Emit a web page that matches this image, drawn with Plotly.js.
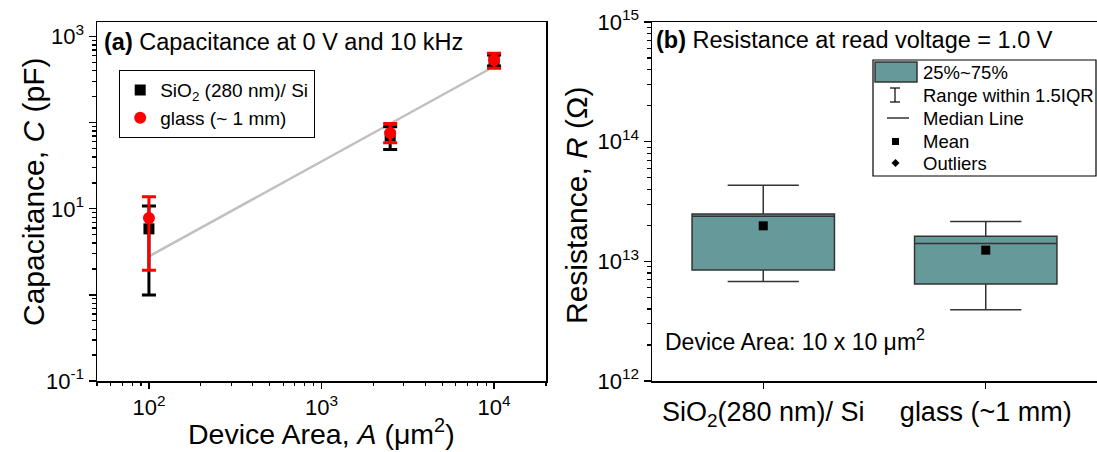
<!DOCTYPE html>
<html><head><meta charset="utf-8">
<script src="https://cdn.plot.ly/plotly-3.0.1.min.js"></script>
<style>html,body{margin:0;padding:0;background:#fff}#chart{width:1097px;height:452px}</style>
</head><body><div id="chart"></div>
<script>
// ---- Panel (a): capacitance vs device area ----
const areas = [100, 2500, 10000];
const sio2C = [5.85, 70, 522];
const sio2Hi = [10.8, 90, 612];
const sio2Lo = [1.0, 49, 457];
const glassC = [7.8, 76, 536];
const glassHi = [13.8, 98, 641];
const glassLo = [1.94, 58.5, 430];
const fitA = [100, 10000];
const fitC = [2.8, 450];

// ---- Panel (b): resistance box plot ----
const substrates = ['SiO<sub>2</sub>(280 nm)/ Si', 'glass (~1 mm)'];
const rQ1 = [8.47e12, 6.46e12];
const rMedian = [2.38e13, 1.41e13];
const rQ3 = [2.49e13, 1.62e13];
const rLowFence = [6.79e12, 3.94e12];
const rHighFence = [4.33e13, 2.15e13];
const rMean = [1.98e13, 1.24e13];

// ---- tick labels ----
const capTickVals = [0.1, 1, 10, 100, 1000];
const capTickText = ['10<sup>-1</sup>', ' ', '10<sup>1</sup>', ' ', '10<sup>3</sup>'];
const areaTickVals = [100, 1000, 10000];
const areaTickText = ['10<sup>2</sup>', '10<sup>3</sup>', '10<sup>4</sup>'];
const resTickVals = [1e12, 1e13, 1e14, 1e15];
const resTickText = ['10<sup>12</sup>', '10<sup>13</sup>', '10<sup>14</sup>', '10<sup>15</sup>'];

const legendLabels = ['25%~75%', 'Range within 1.5IQR', 'Median Line', 'Mean', 'Outliers'];

function minors(lo, hi) {
  const out = [];
  for (let e = lo; e <= hi; e++) for (let m = 2; m <= 9; m++) out.push(m * Math.pow(10, e));
  return out;
}

const W = 1097, H = 452;
const X = p => p / W;
const Y = p => 1 - p / H;
const FONT = 'Arial, "Liberation Sans", sans-serif';
const TEAL = 'rgb(102,153,153)';

const diff = (a, b) => a.map((v, i) => v - b[i]);

const traces = [
  {x: fitA, y: fitC, xaxis: 'x', yaxis: 'y', mode: 'lines', line: {color: '#c0c0c0', width: 2.5}, showlegend: false, hoverinfo: 'skip'},
  {x: areas, y: sio2C, xaxis: 'x', yaxis: 'y', mode: 'markers', name: 'SiO<sub>2</sub> (280 nm)/ Si',
   marker: {symbol: 'square', size: 11, color: '#000'},
   error_y: {type: 'data', symmetric: false, array: diff(sio2Hi, sio2C), arrayminus: diff(sio2C, sio2Lo), color: '#000', thickness: 3, width: 7}},
  {x: areas, y: glassC, xaxis: 'x', yaxis: 'y', mode: 'markers', name: 'glass (~ 1 mm)',
   marker: {symbol: 'circle', size: 12, color: '#ff0000'},
   error_y: {type: 'data', symmetric: false, array: diff(glassHi, glassC), arrayminus: diff(glassC, glassLo), color: '#ff0000', thickness: 3, width: 7}},
  // dummy traces to register minor-tick overlay axes
  {x: [], y: [], xaxis: 'x3', yaxis: 'y', showlegend: false, hoverinfo: 'skip'},
  {x: [], y: [], xaxis: 'x', yaxis: 'y3', showlegend: false, hoverinfo: 'skip'},
  {x: [], y: [], xaxis: 'x2', yaxis: 'y4', showlegend: false, hoverinfo: 'skip'},
  {type: 'box', x: substrates, q1: rQ1, median: rMedian, q3: rQ3, lowerfence: rLowFence, upperfence: rHighFence,
   xaxis: 'x2', yaxis: 'y2', width: 0.64, whiskerwidth: 0.5, fillcolor: TEAL, line: {color: '#333', width: 1.5},
   boxpoints: false, showlegend: false, hoverinfo: 'skip'},
  {x: substrates, y: rMean, xaxis: 'x2', yaxis: 'y2', mode: 'markers', marker: {symbol: 'square', size: 9, color: '#000'},
   showlegend: false, hoverinfo: 'skip'}
];

const yDom = [(H - 381) / H, (H - 22) / H];
const axBase = {showgrid: false, zeroline: false, linecolor: '#000', linewidth: 1.5, ticks: 'outside', tickcolor: '#000', tickwidth: 1.2,
  tickfont: {family: FONT, size: 22, color: '#000'}};

const layout = {
  width: W, height: H, margin: {l: 0, r: 0, t: 0, b: 0},
  paper_bgcolor: '#fff', plot_bgcolor: '#fff',
  font: {family: FONT, color: '#000'},
  showlegend: true,
  xaxis: Object.assign({}, axBase, {domain: [X(97), X(546)], anchor: 'y', type: 'log', range: [Math.log10(50), Math.log10(20000)],
    tickvals: areaTickVals, ticktext: areaTickText, ticklen: 6, mirror: true}),
  yaxis: Object.assign({}, axBase, {domain: yDom, anchor: 'x', type: 'log', range: [-1, 3.17],
    tickvals: capTickVals, ticktext: capTickText, ticklen: 7, mirror: true}),
  xaxis3: {overlaying: 'x', anchor: 'y', side: 'bottom', type: 'log', range: [Math.log10(50), Math.log10(20000)],
    tickvals: minors(1, 4), ticks: 'outside', ticklen: 4, tickwidth: 1.2, tickcolor: '#000', showticklabels: false, showgrid: false, zeroline: false, showline: false},
  yaxis3: {overlaying: 'y', anchor: 'x', side: 'left', type: 'log', range: [-1, 3.17],
    tickvals: minors(-1, 2), ticks: 'outside', ticklen: 4, tickwidth: 1.2, tickcolor: '#000', showticklabels: false, showgrid: false, zeroline: false, showline: false},
  xaxis2: Object.assign({}, axBase, {domain: [X(652), 1], anchor: 'y2', type: 'category', range: [-0.5, 1.5], ticklen: 6, mirror: true,
    tickfont: {family: FONT, size: 27, color: '#000'}}),
  yaxis2: Object.assign({}, axBase, {domain: yDom, anchor: 'x2', type: 'log', range: [12, 15],
    tickvals: resTickVals, ticktext: resTickText, ticklen: 7, mirror: false}),
  yaxis4: {overlaying: 'y2', anchor: 'x2', side: 'left', type: 'log', range: [12, 15],
    tickvals: minors(12, 14), ticks: 'outside', ticklen: 4, tickwidth: 1.2, tickcolor: '#000', showticklabels: false, showgrid: false, zeroline: false, showline: false},
  legend: {x: X(119), y: Y(70), xanchor: 'left', yanchor: 'top', bordercolor: '#000', borderwidth: 1.2, bgcolor: 'rgba(255,255,255,0)',
    font: {family: FONT, size: 19, color: '#000'}, tracegroupgap: 0},
  annotations: [
    {xref: 'paper', yref: 'paper', x: X(102), y: Y(42), xanchor: 'left', yanchor: 'middle', showarrow: false,
     text: '<b>(a)</b> Capacitance at 0 V and 10 kHz', font: {size: 23.5}},
    {xref: 'paper', yref: 'paper', x: X(654), y: Y(40), xanchor: 'left', yanchor: 'middle', showarrow: false,
     text: '<b>(b)</b> Resistance at read voltage = 1.0 V', font: {size: 23.5}},
    {xref: 'paper', yref: 'paper', x: X(33), y: Y(192), xanchor: 'center', yanchor: 'middle', showarrow: false, textangle: -90,
     text: 'Capacitance, <i>C</i> (pF)', font: {size: 30}},
    {xref: 'paper', yref: 'paper', x: X(321), y: Y(452), xanchor: 'center', yanchor: 'bottom', showarrow: false,
     text: 'Device Area, <i>A</i> (\u03bcm<sup>2</sup>)', font: {size: 28.5}},
    {xref: 'paper', yref: 'paper', x: X(576), y: Y(205), xanchor: 'center', yanchor: 'middle', showarrow: false, textangle: -90,
     text: 'Resistance, <i>R</i> (\u03a9)', font: {size: 30}},
    {xref: 'paper', yref: 'paper', x: X(663), y: Y(340), xanchor: 'left', yanchor: 'middle', showarrow: false,
     text: 'Device Area: 10 x 10 \u03bcm<sup>2</sup>', font: {size: 23}},
    ...legendLabels.map((t, i) => ({xref: 'paper', yref: 'paper', x: X(921), y: Y([72, 95, 118, 141, 163][i]), xanchor: 'left', yanchor: 'middle',
      showarrow: false, text: t, font: {size: 18.5}}))
  ],
  shapes: [
    {type: 'rect', xref: 'paper', yref: 'paper', x0: X(873), x1: X(1096), y0: Y(60), y1: Y(176), line: {color: '#000', width: 1.2}},
    {type: 'rect', xref: 'paper', yref: 'paper', x0: X(875), x1: X(917), y0: Y(62), y1: Y(82), fillcolor: TEAL, line: {color: '#333', width: 1.5}},
    {type: 'line', xref: 'paper', yref: 'paper', x0: X(895), x1: X(895), y0: Y(88), y1: Y(102), line: {color: '#000', width: 1.2}},
    {type: 'line', xref: 'paper', yref: 'paper', x0: X(890), x1: X(900), y0: Y(88), y1: Y(88), line: {color: '#000', width: 1.2}},
    {type: 'line', xref: 'paper', yref: 'paper', x0: X(890), x1: X(900), y0: Y(102), y1: Y(102), line: {color: '#000', width: 1.2}},
    {type: 'line', xref: 'paper', yref: 'paper', x0: X(887), x1: X(909), y0: Y(118), y1: Y(118), line: {color: '#000', width: 1.2}},
    {type: 'rect', xref: 'paper', yref: 'paper', x0: X(892), x1: X(899), y0: Y(138), y1: Y(145), fillcolor: '#000', line: {width: 0}},
    {type: 'path', xref: 'paper', yref: 'paper', fillcolor: '#000', line: {width: 0},
     path: `M ${X(895.5)} ${Y(159)} L ${X(899.5)} ${Y(163)} L ${X(895.5)} ${Y(167)} L ${X(891.5)} ${Y(163)} Z`}
  ]
};

Plotly.newPlot('chart', traces, layout, {displayModeBar: false, staticPlot: true});
</script>
</body></html>
